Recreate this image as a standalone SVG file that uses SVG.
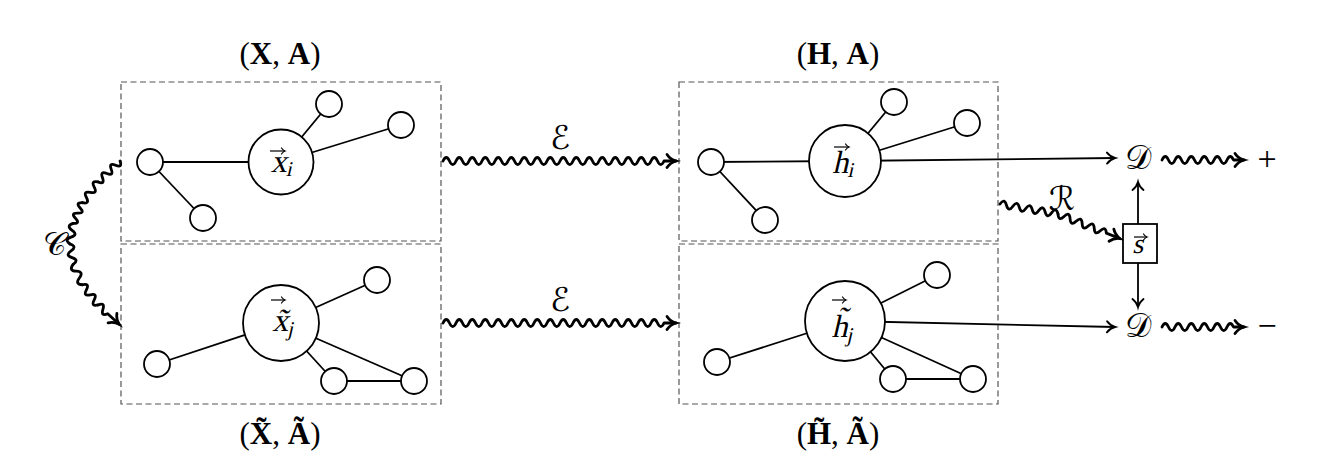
<svg xmlns="http://www.w3.org/2000/svg" width="1344" height="475" viewBox="0 0 1344 475">
<defs>
<style>
.box{fill:none;stroke:#555;stroke-width:1.2;stroke-dasharray:6 3.5}
.n{fill:#fff;stroke:#000;stroke-width:1.8}
.e{stroke:#000;stroke-width:1.8;fill:none}
.ar{stroke:#000;stroke-width:1.8;fill:none;marker-end:url(#arr)}
.sn{fill:none;stroke:#000;stroke-width:2.8;stroke-linejoin:round;stroke-linecap:round}
.sa{marker-end:url(#arr2)}
.va{stroke:#000;stroke-width:1.2;fill:none;marker-end:url(#vh)}
.t{font-family:"Liberation Serif",serif;fill:#000}
.b{font-weight:bold}
.cal{font-family:"DejaVu Serif","DejaVu Sans","Liberation Serif",serif;font-style:normal}
</style>
<marker id="arr" markerUnits="userSpaceOnUse" viewBox="-10 -8 12 16" markerWidth="12" markerHeight="16" refX="0" refY="0" orient="auto" overflow="visible">
<path d="M-8,-5.5 C-6,-3 -3,-0.8 0,0 C-3,0.8 -6,3 -8,5.5" fill="none" stroke="#000" stroke-width="1.9" stroke-linecap="round"/>
</marker>
<marker id="arr2" markerUnits="userSpaceOnUse" viewBox="-12 -9 14 18" markerWidth="14" markerHeight="18" refX="0" refY="0" orient="auto" overflow="visible">
<path d="M-9,-6.5 C-7,-3.5 -3.5,-1 0,0 C-3.5,1 -7,3.5 -9,6.5" fill="none" stroke="#000" stroke-width="2.8" stroke-linecap="round"/>
</marker>
<marker id="vh" markerUnits="userSpaceOnUse" viewBox="-5 -4 6 8" markerWidth="6" markerHeight="8" refX="0" refY="0" orient="auto" overflow="visible">
<path d="M-3.5,-3 C-2.5,-1.5 -1.2,-0.4 0,0 C-1.2,0.4 -2.5,1.5 -3.5,3" fill="none" stroke="#000" stroke-width="1.2" stroke-linecap="round"/>
</marker>
</defs>
<rect width="1344" height="475" fill="#fff"/>

<g id="frames">
<rect class="box" x="121" y="82" width="320" height="159"/>
<rect class="box" x="121" y="244" width="320" height="160"/>
<rect class="box" x="679" y="82" width="319" height="159"/>
<rect class="box" x="679" y="244" width="319" height="160"/>
</g>

<g id="labels" class="t">
<text x="280" y="64" font-size="31" text-anchor="middle">(<tspan class="b">X</tspan>, <tspan class="b">A</tspan>)</text>
<text x="838" y="64" font-size="31" text-anchor="middle">(<tspan class="b">H</tspan>, <tspan class="b">A</tspan>)</text>
<text x="280" y="444" font-size="31" text-anchor="middle">(<tspan class="b">X̃</tspan>, <tspan class="b">Ã</tspan>)</text>
<text x="838" y="444" font-size="31" text-anchor="middle">(<tspan class="b">H̃</tspan>, <tspan class="b">Ã</tspan>)</text>
</g>

<g id="connectors">
<line class="e" x1="150" y1="162" x2="281" y2="162"/>
<line class="e" x1="150" y1="162" x2="203" y2="218"/>
<line class="e" x1="281" y1="162" x2="329" y2="104"/>
<line class="e" x1="281" y1="162" x2="401" y2="125"/>
<line class="e" x1="281" y1="323" x2="377" y2="280"/>
<line class="e" x1="281" y1="323" x2="157" y2="364"/>
<line class="e" x1="281" y1="323" x2="334" y2="381"/>
<line class="e" x1="281" y1="323" x2="414" y2="381"/>
<line class="e" x1="334" y1="381" x2="414" y2="381"/>
<line class="e" x1="711" y1="162" x2="845" y2="161"/>
<line class="e" x1="711" y1="162" x2="765" y2="220"/>
<line class="e" x1="845" y1="161" x2="894" y2="102"/>
<line class="e" x1="845" y1="161" x2="967" y2="123"/>
<line class="ar" x1="845" y1="161" x2="1115" y2="158"/>
<line class="e" x1="845" y1="321" x2="937" y2="275"/>
<line class="e" x1="845" y1="321" x2="717" y2="362"/>
<line class="e" x1="845" y1="321" x2="893" y2="379"/>
<line class="e" x1="845" y1="321" x2="973" y2="379"/>
<line class="e" x1="893" y1="379" x2="973" y2="379"/>
<line class="ar" x1="845" y1="321" x2="1115" y2="327"/>
<line class="ar" x1="1138" y1="224" x2="1138" y2="182"/>
<line class="ar" x1="1138" y1="263" x2="1138" y2="307"/>
<path class="sn sa" d="M443,161 q3.25,-7 6.5,0 t6.5,0 t6.5,0 t6.5,0 t6.5,0 t6.5,0 t6.5,0 t6.5,0 t6.5,0 t6.5,0 t6.5,0 t6.5,0 t6.5,0 t6.5,0 t6.5,0 t6.5,0 t6.5,0 t6.5,0 t6.5,0 t6.5,0 t6.5,0 t6.5,0 t6.5,0 t6.5,0 t6.5,0 t6.5,0 t6.5,0 t6.5,0 t6.5,0 t6.5,0 t6.5,0 t6.5,0 t6.5,0 t6.5,0 L676,161"/>
<path class="sn sa" d="M443,323 q3.25,-7 6.5,0 t6.5,0 t6.5,0 t6.5,0 t6.5,0 t6.5,0 t6.5,0 t6.5,0 t6.5,0 t6.5,0 t6.5,0 t6.5,0 t6.5,0 t6.5,0 t6.5,0 t6.5,0 t6.5,0 t6.5,0 t6.5,0 t6.5,0 t6.5,0 t6.5,0 t6.5,0 t6.5,0 t6.5,0 t6.5,0 t6.5,0 t6.5,0 t6.5,0 t6.5,0 t6.5,0 t6.5,0 t6.5,0 t6.5,0 L676,323"/>
<path class="sn sa" d="M1162,160 q3.25,-7 6.5,0 t6.5,0 t6.5,0 t6.5,0 t6.5,0 t6.5,0 t6.5,0 t6.5,0 t6.5,0 t6.5,0 t6.5,0 L1244,160"/>
<path class="sn sa" d="M1162,327 q3.25,-7 6.5,0 t6.5,0 t6.5,0 t6.5,0 t6.5,0 t6.5,0 t6.5,0 t6.5,0 t6.5,0 t6.5,0 t6.5,0 L1244,327"/>
<path class="sn" transform="translate(1000,204) rotate(9.78)" d="M0,0 q3.27,-7 6.54,0 t6.54,0 t6.54,0 t6.54,0 t6.54,0 t6.54,0 t6.54,0 t6.54,0 t6.54,0"/>
<path class="sn sa" transform="translate(1058,214) rotate(21.64)" d="M0,0 q3.25,7 6.5,0 t6.5,0 t6.5,0 t6.5,0 t6.5,0 t6.5,0 t6.5,0 t6.5,0 L66.5,0"/>
<path class="sn" transform="translate(120,161) rotate(136.25)" d="M0,0 q3.03,-7 6.06,0 t6.06,0 t6.06,0 t6.06,0 t6.06,0"/>
<path class="sn" transform="translate(98.13,181.94) rotate(126.9)" d="M0,0 q3.25,7 6.5,0 t6.5,0 t6.5,0 t6.5,0"/>
<path class="sn" transform="translate(82.5,202.75) rotate(114.4)" d="M0,0 q2.84,7 5.68,0 t5.68,0 t5.68,0 t5.68,0"/>
<path class="sn" transform="translate(73.13,223.44) rotate(98.6)" d="M0,0 q3.47,7 6.93,0 t6.93,0 t6.93,0"/>
<path class="sn" transform="translate(70,244) rotate(81.3)" d="M0,0 q3.45,-7 6.89,0 t6.89,0 t6.89,0"/>
<path class="sn" transform="translate(73.13,264.44) rotate(65.2)" d="M0,0 q3.73,7 7.46,0 t7.46,0 t7.46,0"/>
<path class="sn" transform="translate(82.5,284.75) rotate(52.3)" d="M0,0 q3.19,-7 6.38,0 t6.38,0 t6.38,0 t6.38,0"/>
<path class="sn sa" transform="translate(98.13,304.94) rotate(42.5)" d="M0,0 q3.25,-7 6.5,0 t6.5,0 L28.5,0"/>
</g>

<g id="edge-labels" class="t">
<text class="cal" x="560" y="149" font-size="33" text-anchor="middle">ℰ</text>
<text class="cal" x="560" y="311" font-size="33" text-anchor="middle">ℰ</text>
<text class="cal" x="54" y="255" font-size="32" text-anchor="middle">𝒞</text>
<text class="cal" x="1062" y="210" font-size="33" text-anchor="middle">ℛ</text>
</g>

<g id="node-xi">
<circle class="n" cx="281" cy="162" r="32.5"/>
<path class="va" d="M270,151 H285"/>
<g transform="translate(281,162) skewX(-13)"><text class="t" x="3" y="10" font-size="32" text-anchor="middle">x<tspan font-size="21" dy="4">i</tspan></text></g>
</g>
<g id="node-x1"><circle class="n" cx="150" cy="162" r="13"/></g>
<g id="node-x2"><circle class="n" cx="203" cy="218" r="13"/></g>
<g id="node-x3"><circle class="n" cx="329" cy="104" r="13"/></g>
<g id="node-x4"><circle class="n" cx="401" cy="125" r="13"/></g>

<g id="node-xj">
<circle class="n" cx="281" cy="323" r="38"/>
<path class="va" d="M271,300 H285"/>
<g transform="translate(281,323) skewX(-13)"><text class="t" x="4" y="8" font-size="32" text-anchor="middle">x̃<tspan font-size="21" dy="5">j</tspan></text></g>
</g>
<g id="node-y1"><circle class="n" cx="377" cy="280" r="13"/></g>
<g id="node-y2"><circle class="n" cx="157" cy="364" r="13"/></g>
<g id="node-y3"><circle class="n" cx="334" cy="381" r="13"/></g>
<g id="node-y4"><circle class="n" cx="414" cy="381" r="13"/></g>

<g id="node-hi">
<circle class="n" cx="845" cy="161" r="36"/>
<path class="va" d="M834,147 H849"/>
<g transform="translate(845,161) skewX(-13)"><text class="t" x="1" y="12" font-size="32" text-anchor="middle">h<tspan font-size="21" dy="4">i</tspan></text></g>
</g>
<g id="node-h1"><circle class="n" cx="711" cy="162" r="13"/></g>
<g id="node-h2"><circle class="n" cx="765" cy="220" r="13"/></g>
<g id="node-h3"><circle class="n" cx="894" cy="102" r="13"/></g>
<g id="node-h4"><circle class="n" cx="967" cy="123" r="13"/></g>

<g id="node-hj">
<circle class="n" cx="845" cy="321" r="40"/>
<path class="va" d="M832,300 H846"/>
<g transform="translate(845,321) skewX(-13)"><text class="t" x="1" y="16" font-size="32" text-anchor="middle">h̃<tspan font-size="21" dy="5">j</tspan></text></g>
</g>
<g id="node-g1"><circle class="n" cx="937" cy="275" r="13"/></g>
<g id="node-g2"><circle class="n" cx="717" cy="362" r="13"/></g>
<g id="node-g3"><circle class="n" cx="893" cy="379" r="13"/></g>
<g id="node-g4"><circle class="n" cx="973" cy="379" r="13"/></g>

<g id="node-s">
<rect x="1123" y="224" width="34" height="39" fill="#fff" stroke="#000" stroke-width="1.8"/>
<path class="va" d="M1134,237 H1147"/>
<g transform="translate(1140,243) skewX(-13)"><text class="t" x="0" y="10" font-size="28" text-anchor="middle">s</text></g>
</g>
<g id="node-d1"><text class="t cal" x="1138" y="169" font-size="33" text-anchor="middle">𝒟</text></g>
<g id="node-d2"><text class="t cal" x="1138" y="337" font-size="33" text-anchor="middle">𝒟</text></g>
<g id="node-plus"><text class="t" x="1267" y="170" font-size="34" text-anchor="middle">+</text></g>
<g id="node-minus"><text class="t" x="1267" y="337" font-size="34" text-anchor="middle">−</text></g>
</svg>
